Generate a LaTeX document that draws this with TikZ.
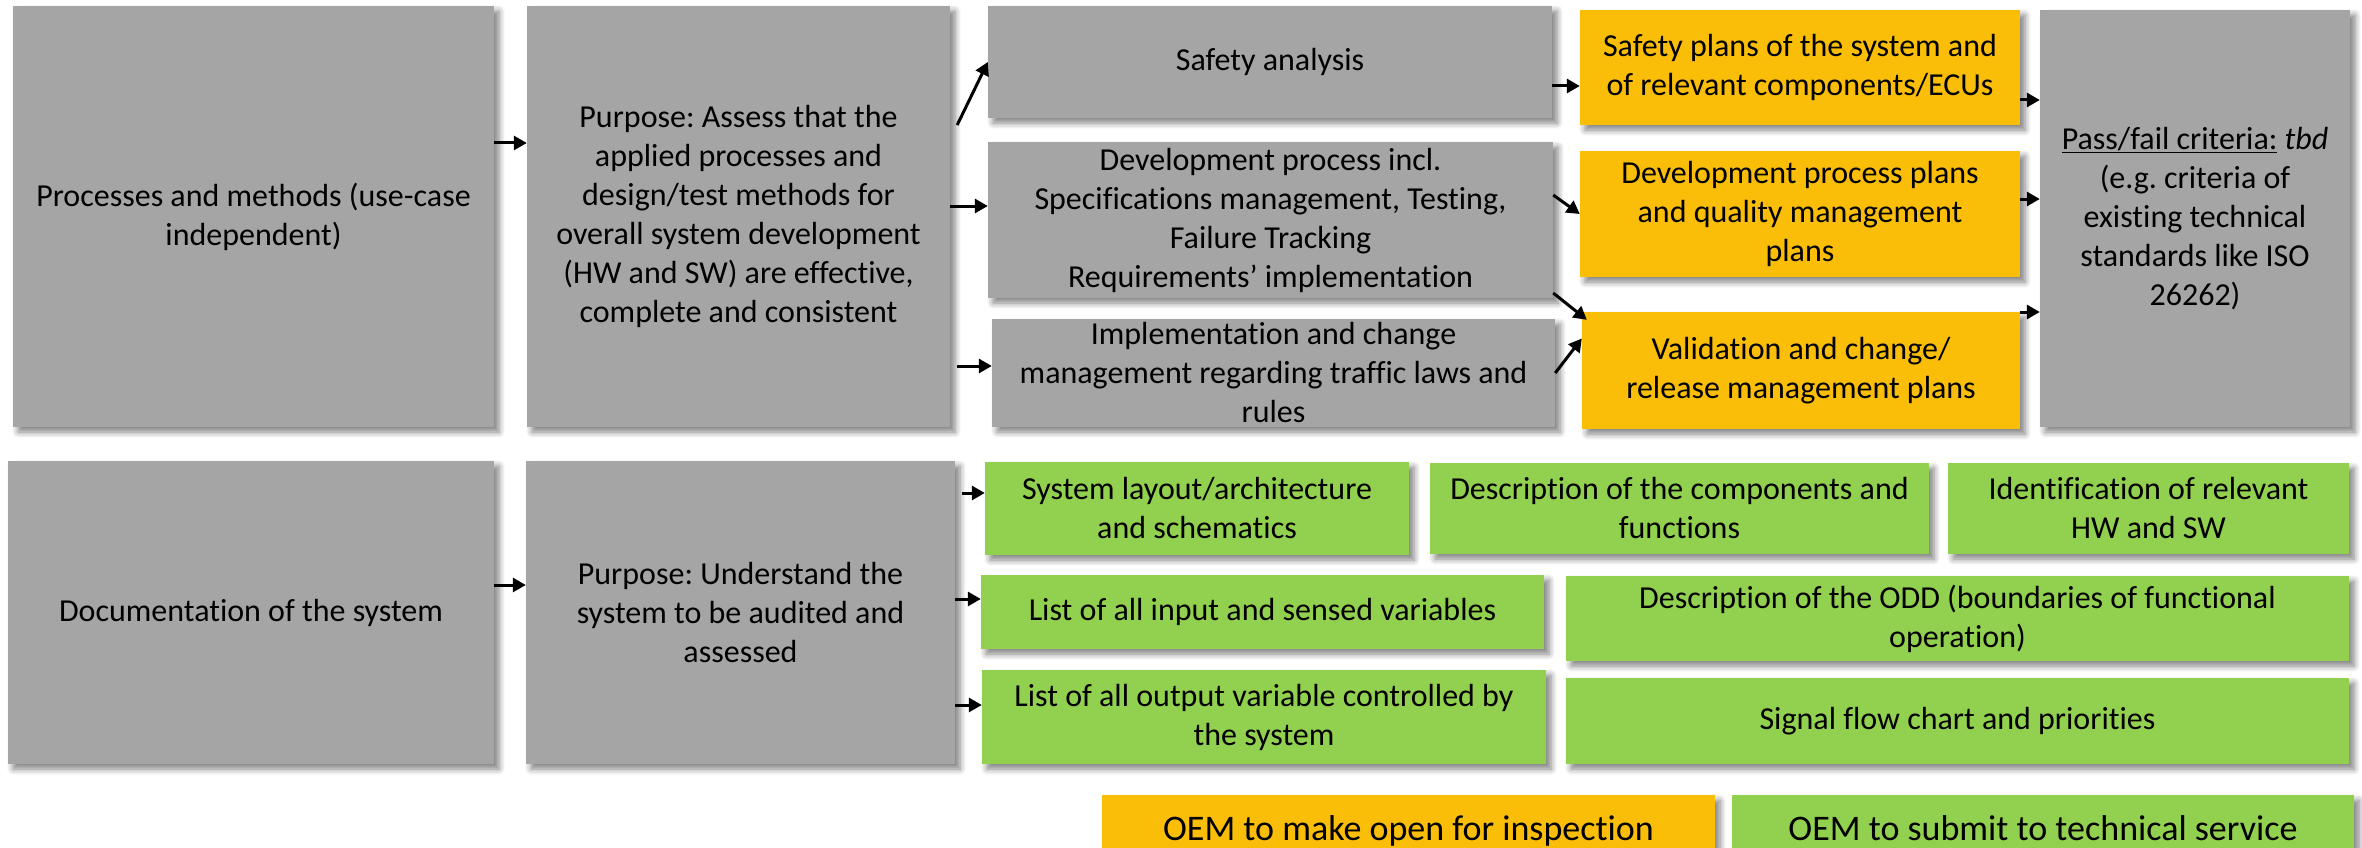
\documentclass[tikz,border=0pt]{standalone}
\usepackage{fontspec}
\setmainfont[Ligatures={NoCommon,NoContextual,NoRequired},Contextuals=NoAlternate]{Carlito}
\frenchspacing
\usetikzlibrary{arrows.meta,shadows.blur}
\definecolor{boxgray}{RGB}{165, 165, 165}
\definecolor{planorange}{RGB}{250, 190, 8}
\definecolor{docgreen}{RGB}{146, 208, 80}

\tikzset{
	card/.style={inner sep=0pt, align=center, font=\fontsize{32}{39}\selectfont,
		blur shadow={shadow xshift=5pt, shadow yshift=-5pt, shadow blur radius=6pt, shadow blur steps=6, shadow opacity=50}},
	grybox/.style={card, fill=boxgray},
	orgbox/.style={card, fill=planorange},
	grnbox/.style={card, fill=docgreen},
	legbox/.style={font=\fontsize{36}{43}\selectfont},
	arr/.style={line width=3pt, -{Triangle[length=13pt,width=14pt]}}
}

\begin{document}
\begin{tikzpicture}[x=1pt, y=-1pt]
			\useasboundingbox (0,0) rectangle (2362,848);
			\clip (0,0) rectangle (2362,848);

			% processes row
			\node[grybox, minimum width=481pt, minimum height=421pt] (proc) at (253.5,216.5) {Processes and methods (use-case\\independent)};
			\node[grybox, minimum width=423pt, minimum height=421pt] (purp1) at (738.5,216.5) {Purpose: Assess that the\\applied processes and\\design/test methods for\\overall system development\\(HW and SW) are effective,\\complete and consistent};
			\node[grybox, minimum width=564pt, minimum height=112pt] (safe) at (1270,62) {Safety analysis};
			\node[grybox, minimum width=565pt, minimum height=156pt] (dev) at (1270.5,220) {Development process incl.\\Specifications management, Testing,\\Failure Tracking\\Requirements’ implementation};
			\node[grybox, minimum width=563pt, minimum height=108pt] (impl) at (1273.5,373) {Implementation and change\\management regarding traffic laws and\\rules};
			\node[orgbox, minimum width=440pt, minimum height=115pt] (splan) at (1800,67.5) {Safety plans of the system and\\of relevant components/ECUs};
			\node[orgbox, minimum width=440pt, minimum height=126pt] (dplan) at (1800,214) {Development process plans\\and quality management\\plans};
			\node[orgbox, minimum width=438pt, minimum height=117pt] (vplan) at (1801,370.5) {Validation and change/\\release management plans};
			\node[grybox, minimum width=310pt, minimum height=417pt] (pass) at (2195,218.5) {\underline{Pass/fail criteria:} \textit{tbd}\\(e.g. criteria of\\existing technical\\standards like ISO\\26262)};

			% documentation row
			\node[grybox, minimum width=486pt, minimum height=303pt] (doc) at (251,612.5) {Documentation of the system};
			\node[grybox, minimum width=429pt, minimum height=303pt] (purp2) at (740.5,612.5) {Purpose: Understand the\\system to be audited and\\assessed};
			\node[grnbox, minimum width=424pt, minimum height=93pt] (syslay) at (1197,508.5) {System layout/architecture\\and schematics};
			\node[grnbox, minimum width=499pt, minimum height=91pt] (desc) at (1679.5,508.5) {Description of the components and\\functions};
			\node[grnbox, minimum width=401pt, minimum height=91pt] (ident) at (2148.5,508.5) {Identification of relevant\\HW and SW};
			\node[grnbox, minimum width=563pt, minimum height=74pt] (inlist) at (1262.5,612) {List of all input and sensed variables};
			\node[grnbox, minimum width=783pt, minimum height=85pt] (odd) at (1957.5,618.5) {Description of the ODD (boundaries of functional\\operation)};
			\node[grnbox, minimum width=564pt, minimum height=94pt] (outlist) at (1264,717) {List of all output variable controlled by\\the system};
			\node[grnbox, minimum width=783pt, minimum height=86pt] (signal) at (1957.5,721) {Signal flow chart and priorities};

			% legende
			\node[orgbox, legbox, minimum width=613pt, minimum height=75pt, anchor=north] (leg1) at (1408.5,795) {\raisebox{10pt}{OEM to make open for inspection}};
			\node[grnbox, legbox, minimum width=622pt, minimum height=75pt, anchor=north] (leg2) at (2043,795) {\raisebox{10pt}{OEM to submit to technical service}};

			% fleches
			\draw[arr] ([yshift=73.5pt]proc.east) -- ([yshift=73.5pt]purp1.west);
			\draw[arr] ([xshift=7pt,yshift=91.5pt]purp1.east) -- (safe.west);
			\draw[arr] ([yshift=14pt]dev.west -| purp1.east) -- ([yshift=14pt]dev.west);
			\draw[arr] ([xshift=7pt,yshift=7pt]impl.west -| purp1.east) -- ([yshift=7pt]impl.west);
			\draw[arr] ([yshift=-18.5pt]splan.west -| safe.east) -- ([yshift=-18.5pt]splan.west);
			\draw[arr] ([yshift=25pt]dev.east) -- (dplan.west);
			\draw[arr] ([yshift=-73pt]dev.east) -- ([xshift=5pt,yshift=-8pt]vplan.north west);
			\draw[arr] (impl.east) -- ([yshift=32pt]vplan.west);
			\draw[arr] ([yshift=-32.5pt]splan.east) -- ([yshift=-32.5pt]splan.east -| pass.west);
			\draw[arr] ([yshift=15pt]dplan.east) -- ([yshift=15pt]dplan.east -| pass.west);
			\draw[arr] ([yshift=58.5pt]vplan.east) -- ([yshift=58.5pt]vplan.east -| pass.west);
			\draw[arr] ([yshift=27.5pt]doc.east) -- ([yshift=27.5pt]purp2.west);
			\draw[arr] ([xshift=7pt]$([yshift=15.5pt]syslay.west -| purp2.east)$) -- ([yshift=15.5pt]syslay.west);
			\draw[arr] ([yshift=13pt]inlist.west -| purp2.east) -- ([yshift=13pt]inlist.west);
			\draw[arr] ([yshift=12pt]outlist.west -| purp2.east) -- ([yshift=12pt]outlist.west);
		\end{tikzpicture}
\end{document}
